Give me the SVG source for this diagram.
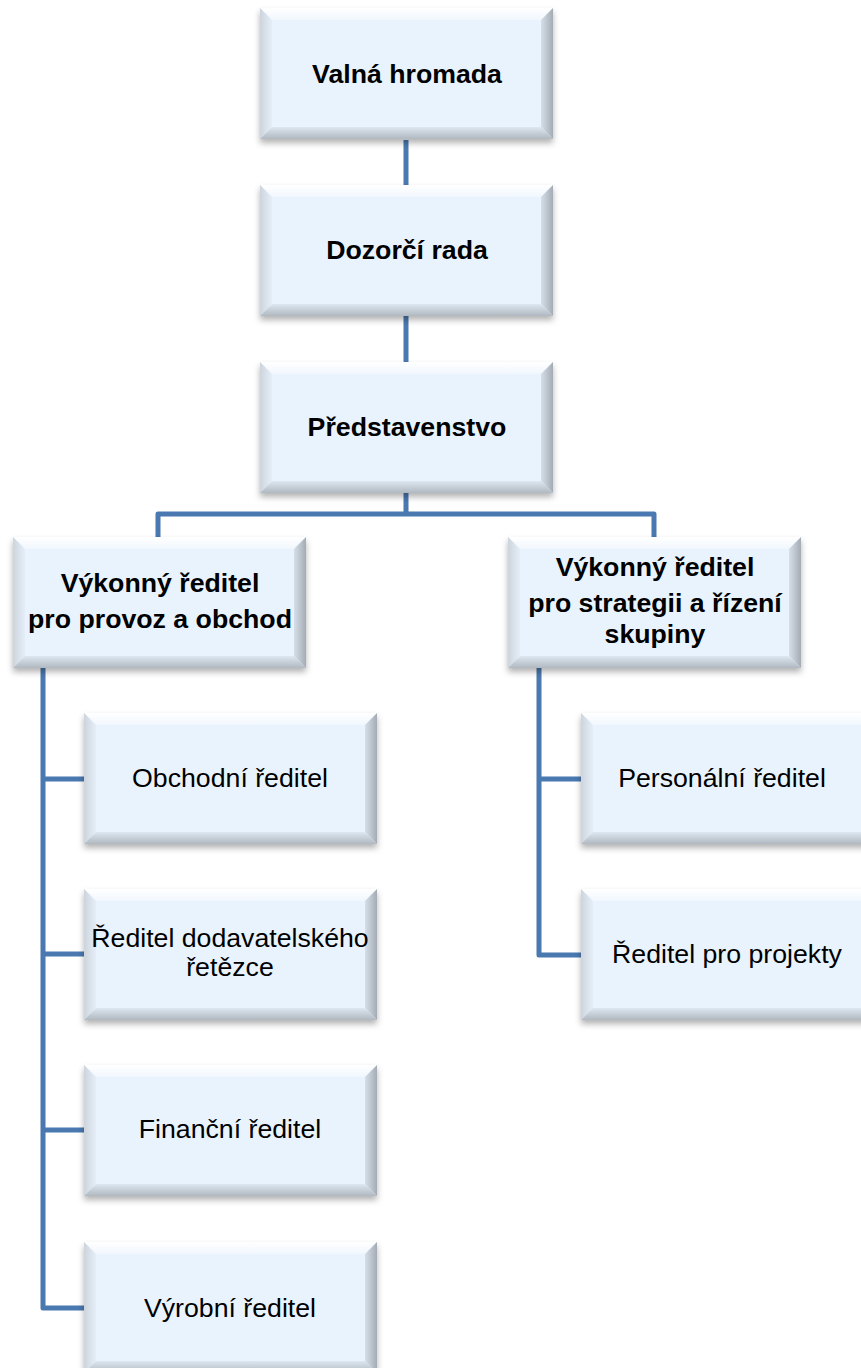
<svg xmlns="http://www.w3.org/2000/svg" xmlns:xlink="http://www.w3.org/1999/xlink" width="861" height="1368" viewBox="0 0 861 1368">
<style>
  .t { font-family: "Liberation Sans", Arial, sans-serif; font-size: 26.7px; fill: #000; text-anchor: middle; }
  .b { font-weight: bold; }
  .conn { fill: none; stroke: #4a78b0; stroke-width: 5; stroke-linejoin: round; }
</style>
<defs>
  <linearGradient id="gTop" x1="0" y1="0" x2="0" y2="1">
    <stop offset="0" stop-color="#ffffff"/>
    <stop offset="1" stop-color="#f1f7fe"/>
  </linearGradient>
  <linearGradient id="gLeft" x1="0" y1="0" x2="1" y2="0">
    <stop offset="0" stop-color="#cdd4dc"/>
    <stop offset="1" stop-color="#e5eef8"/>
  </linearGradient>
  <linearGradient id="gRight" x1="1" y1="0" x2="0" y2="0">
    <stop offset="0" stop-color="#a4abb3"/>
    <stop offset="1" stop-color="#d6dfe9"/>
  </linearGradient>
  <linearGradient id="gBottom" x1="0" y1="1" x2="0" y2="0">
    <stop offset="0" stop-color="#b0b8c0"/>
    <stop offset="1" stop-color="#dde7f1"/>
  </linearGradient>
  <filter id="shadow" x="-10%" y="-10%" width="120%" height="130%">
    <feDropShadow dx="0" dy="4" stdDeviation="3" flood-color="#000" flood-opacity="0.3"/>
  </filter>
  <g id="bevel">
    <rect x="0" y="0" width="293" height="131" fill="#e9f3fd"/>
    <polygon points="0,0 293,0 281,12 12,12" fill="url(#gTop)"/>
    <polygon points="0,0 12,12 12,119 0,131" fill="url(#gLeft)"/>
    <polygon points="293,0 293,131 281,119 281,12" fill="url(#gRight)"/>
    <polygon points="0,131 12,119 281,119 293,131" fill="url(#gBottom)"/>
  </g>
</defs>
<rect width="861" height="1368" fill="#ffffff"/>

<g id="connectors">
  <path class="conn" d="M406,140 V185"/>
  <path class="conn" d="M406,315 V362"/>
  <path class="conn" d="M406,492 V514"/>
  <path class="conn" d="M158,538 V514 H654 V538"/>
  <path class="conn" d="M43,667 V1308 H84"/>
  <path class="conn" d="M43,779 H84"/>
  <path class="conn" d="M43,954 H84"/>
  <path class="conn" d="M43,1130 H84"/>
  <path class="conn" d="M539,667 V955 H581"/>
  <path class="conn" d="M539,779 H581"/>
</g>

<g id="valna-hromada">
  <use xlink:href="#bevel" href="#bevel" transform="translate(260,8)" filter="url(#shadow)"/>
  <text class="t b" x="407" y="83">Valná hromada</text>
</g>
<g id="dozorci-rada">
  <use xlink:href="#bevel" href="#bevel" transform="translate(260,185)" filter="url(#shadow)"/>
  <text class="t b" x="407" y="259">Dozorčí rada</text>
</g>
<g id="predstavenstvo">
  <use xlink:href="#bevel" href="#bevel" transform="translate(260,362)" filter="url(#shadow)"/>
  <text class="t b" x="407" y="436">Představenstvo</text>
</g>
<g id="vykonny-provoz">
  <use xlink:href="#bevel" href="#bevel" transform="translate(13,537)" filter="url(#shadow)"/>
  <text class="t b" x="160" y="592">Výkonný ředitel</text>
  <text class="t b" x="160" y="628">pro provoz a obchod</text>
</g>
<g id="vykonny-strategie">
  <use xlink:href="#bevel" href="#bevel" transform="translate(508,537)" filter="url(#shadow)"/>
  <text class="t b" x="655" y="576">Výkonný ředitel</text>
  <text class="t b" x="655" y="612">pro strategii a řízení</text>
  <text class="t b" x="655" y="643">skupiny</text>
</g>
<g id="obchodni">
  <use xlink:href="#bevel" href="#bevel" transform="translate(84,713)" filter="url(#shadow)"/>
  <text class="t" x="230" y="787">Obchodní ředitel</text>
</g>
<g id="dodavatelsky">
  <use xlink:href="#bevel" href="#bevel" transform="translate(84,889)" filter="url(#shadow)"/>
  <text class="t" x="230" y="947">Ředitel dodavatelského</text>
  <text class="t" x="230" y="976">řetězce</text>
</g>
<g id="financni">
  <use xlink:href="#bevel" href="#bevel" transform="translate(84,1065)" filter="url(#shadow)"/>
  <text class="t" x="230" y="1138">Finanční ředitel</text>
</g>
<g id="vyrobni">
  <use xlink:href="#bevel" href="#bevel" transform="translate(84,1242)" filter="url(#shadow)"/>
  <text class="t" x="230" y="1317">Výrobní ředitel</text>
</g>
<g id="personalni">
  <use xlink:href="#bevel" href="#bevel" transform="translate(581,713)" filter="url(#shadow)"/>
  <text class="t" x="722" y="787">Personální ředitel</text>
</g>
<g id="projekty">
  <use xlink:href="#bevel" href="#bevel" transform="translate(581,889)" filter="url(#shadow)"/>
  <text class="t" x="727" y="963">Ředitel pro projekty</text>
</g>
</svg>
